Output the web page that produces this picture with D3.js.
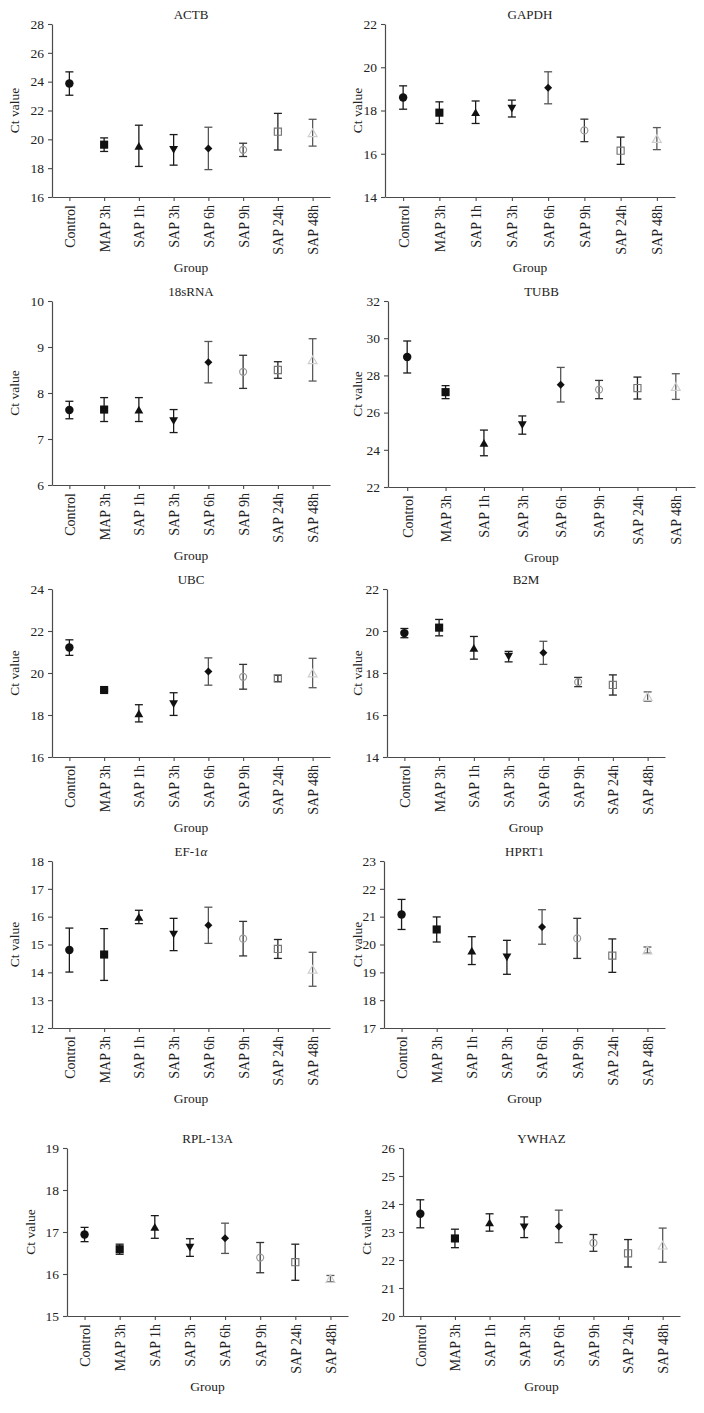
<!DOCTYPE html>
<html><head><meta charset="utf-8">
<script src="https://cdn.jsdelivr.net/npm/d3@7"></script>
<style>body{margin:0;background:#fff}svg{display:block}</style>
</head><body>
<svg id="c" width="704" height="1413"></svg>
<script>
// ---------- data ----------
const groups = ["Control","MAP 3h","SAP 1h","SAP 3h","SAP 6h","SAP 9h","SAP 24h","SAP 48h"];
const genes = ["ACTB","GAPDH","18sRNA","TUBB","UBC","B2M","EF-1α","HPRT1","RPL-13A","YWHAZ"];

const actbMean  = [23.87, 19.63, 19.55, 19.27, 19.37, 19.27, 20.53, 20.46];
const actbSD    = [0.81, 0.47, 1.43, 1.06, 1.47, 0.46, 1.27, 0.93];
const gapdhMean = [18.60, 17.90, 17.92, 18.09, 19.05, 17.08, 16.14, 16.70];
const gapdhSD   = [0.54, 0.50, 0.52, 0.39, 0.74, 0.52, 0.63, 0.51];
const rnaMean   = [7.63, 7.64, 7.64, 7.39, 8.67, 8.46, 8.50, 8.72];
const rnaSD     = [0.19, 0.26, 0.26, 0.25, 0.45, 0.36, 0.18, 0.46];
const tubbMean  = [28.99, 27.10, 24.37, 25.33, 27.50, 27.24, 27.32, 27.40];
const tubbSD    = [0.86, 0.35, 0.69, 0.49, 0.93, 0.49, 0.59, 0.69];
const ubcMean   = [21.21, 19.19, 18.08, 18.52, 20.07, 19.82, 19.74, 20.00];
const ubcSD     = [0.37, 0.05, 0.41, 0.54, 0.65, 0.59, 0.15, 0.70];
const b2mMean   = [19.90, 20.16, 19.20, 18.78, 18.96, 17.57, 17.43, 16.88];
const b2mSD     = [0.22, 0.39, 0.54, 0.25, 0.55, 0.22, 0.48, 0.22];
const efMean    = [14.80, 14.64, 15.99, 15.36, 15.69, 15.21, 14.84, 14.11];
const efSD      = [0.79, 0.93, 0.24, 0.58, 0.65, 0.62, 0.34, 0.61];
const hprtMean  = [21.08, 20.54, 19.78, 19.54, 20.63, 20.22, 19.60, 19.80];
const hprtSD    = [0.54, 0.45, 0.50, 0.61, 0.62, 0.72, 0.60, 0.11];
const rplMean   = [16.94, 16.59, 17.12, 16.63, 16.85, 16.39, 16.28, 15.89];
const rplSD     = [0.17, 0.12, 0.27, 0.21, 0.36, 0.36, 0.43, 0.075];
const ywhazMean = [23.65, 22.77, 23.34, 23.17, 23.20, 22.61, 22.24, 22.53];
const ywhazSD   = [0.50, 0.33, 0.31, 0.37, 0.58, 0.30, 0.49, 0.61];

const yDomains = [[16,28],[14,22],[6,10],[22,32],[16,24],[14,22],[12,18],[17,23],[15,19],[20,26]];
const yTicks = [
  [16,18,20,22,24,26,28],
  [14,16,18,20,22],
  [6,7,8,9,10],
  [22,24,26,28,30,32],
  [16,18,20,22,24],
  [14,16,18,20,22],
  [12,13,14,15,16,17,18],
  [17,18,19,20,21,22,23],
  [15,16,17,18,19],
  [20,21,22,23,24,25,26]
];
const yLabel = "Ct value";
const xLabel = "Group";

const means = [actbMean,gapdhMean,rnaMean,tubbMean,ubcMean,b2mMean,efMean,hprtMean,rplMean,ywhazMean];
const sds   = [actbSD,gapdhSD,rnaSD,tubbSD,ubcSD,b2mSD,efSD,hprtSD,rplSD,ywhazSD];

// ---------- layout (pixel frame of each panel) ----------
const layout = [
  {x0:52,  x1:330, yt:24,   yb:197,  ly:14},
  {x0:385, x1:675, yt:24,   yb:197,  ly:357},
  {x0:52,  x1:330, yt:301,  yb:485,  ly:14},
  {x0:388, x1:695, yt:301,  yb:487,  ly:357},
  {x0:52,  x1:330, yt:589,  yb:757,  ly:14},
  {x0:387, x1:665, yt:589,  yb:757,  ly:357},
  {x0:52,  x1:330, yt:861,  yb:1028, ly:14},
  {x0:384, x1:665, yt:861,  yb:1028, ly:357},
  {x0:67,  x1:348, yt:1148, yb:1316, ly:30},
  {x0:403, x1:680, yt:1148, yb:1316, ly:366}
];

// ---------- symbols ----------
const triUp = {draw(ctx, size){const s=Math.sqrt(size*4/Math.sqrt(3)), h=s*Math.sqrt(3)/2;
  ctx.moveTo(0,-h/2); ctx.lineTo(s/2,h/2); ctx.lineTo(-s/2,h/2); ctx.closePath();}};
const triDown = {draw(ctx, size){const s=Math.sqrt(size*4/Math.sqrt(3)), h=s*Math.sqrt(3)/2;
  ctx.moveTo(0,h/2); ctx.lineTo(s/2,-h/2); ctx.lineTo(-s/2,-h/2); ctx.closePath();}};
const diamond = {draw(ctx, size){const r=Math.sqrt(size/2);
  ctx.moveTo(0,-r); ctx.lineTo(r,0); ctx.lineTo(0,r); ctx.lineTo(-r,0); ctx.closePath();}};

const markerStyle = [
  {type:d3.symbolCircle, size:56, fill:"#111", stroke:"none"},
  {type:d3.symbolSquare, size:66, fill:"#111", stroke:"none"},
  {type:triUp,           size:34, fill:"#111", stroke:"none"},
  {type:triDown,         size:34, fill:"#111", stroke:"none"},
  {type:diamond,         size:32, fill:"#111", stroke:"none"},
  {type:d3.symbolCircle, size:38, fill:"none", stroke:"#999"},
  {type:d3.symbolSquare, size:50, fill:"none", stroke:"#777"},
  {type:triUp,           size:34, fill:"none", stroke:"#cfcfcf"}
];
const barColor = ["#1a1a1a","#1a1a1a","#1a1a1a","#1a1a1a","#555","#333","#222","#5a5a5a"];

const FONT = "'Liberation Serif','DejaVu Serif',serif";
const svg = d3.select("#c");

genes.forEach((gene, gi) => {
  const L = layout[gi];
  const g = svg.append("g");
  const x = d3.scalePoint().domain(groups).range([L.x0, L.x1]).padding(0.5);
  const y = d3.scaleLinear().domain(yDomains[gi]).range([L.yb, L.yt]);

  // y axis
  const ya = g.append("g").attr("transform", `translate(${L.x0},0)`)
    .call(d3.axisLeft(y).tickValues(yTicks[gi]).tickSize(4).tickSizeOuter(0).tickPadding(4).tickFormat(d3.format("d")));
  // x axis
  const xa = g.append("g").attr("transform", `translate(0,${L.yb})`)
    .call(d3.axisBottom(x).tickSize(4).tickSizeOuter(0));
  xa.selectAll("text")
    .attr("transform","rotate(-90)")
    .attr("x",-8).attr("y",0).attr("dy","0.35em")
    .style("text-anchor","end");
  [ya, xa].forEach(a => {
    a.select(".domain").attr("stroke","#4a4a4a").attr("stroke-width",1.2);
    a.selectAll(".tick line").attr("stroke","#4a4a4a").attr("stroke-width",1.1);
    a.selectAll("text").attr("fill","#222").style("font-family",FONT).style("font-size","13.5px");
  });
  xa.selectAll("text").style("font-size","14px");

  // title
  const cx = (L.x0 + L.x1) / 2;
  const t = g.append("text").attr("x", cx).attr("y", L.yt - 10).attr("dy","0.35em")
    .attr("text-anchor","middle").attr("fill","#222")
    .style("font-family",FONT).style("font-size","13px");
  if (gene.endsWith("α")) {
    t.append("tspan").text(gene.slice(0,-1));
    t.append("tspan").style("font-style","italic").text("α");
  } else t.text(gene);

  // axis labels
  g.append("text").attr("x", cx).attr("y", L.yb + 70).attr("dy","0.35em")
    .attr("text-anchor","middle").attr("fill","#222")
    .style("font-family",FONT).style("font-size","13.5px").text(xLabel);
  g.append("text").attr("transform", `translate(${L.ly},${(L.yt+L.yb)/2}) rotate(-90)`)
    .attr("dy","0.35em").attr("text-anchor","middle").attr("fill","#222")
    .style("font-family",FONT).style("font-size","13.5px").text(yLabel);

  // error bars
  const rows = groups.map((grp, i) => ({grp, i, m: means[gi][i], s: sds[gi][i]}));
  const eb = g.append("g").selectAll("g").data(rows).join("g")
    .attr("stroke", d => barColor[d.i]).attr("stroke-width",1.3).attr("fill","none");
  eb.append("line").attr("x1", d => x(d.grp)).attr("x2", d => x(d.grp))
    .attr("y1", d => y(d.m + d.s)).attr("y2", d => y(d.m - d.s));
  eb.append("line").attr("x1", d => x(d.grp) - 4).attr("x2", d => x(d.grp) + 4)
    .attr("y1", d => y(d.m + d.s)).attr("y2", d => y(d.m + d.s));
  eb.append("line").attr("x1", d => x(d.grp) - 4).attr("x2", d => x(d.grp) + 4)
    .attr("y1", d => y(d.m - d.s)).attr("y2", d => y(d.m - d.s));

  // markers
  g.append("g").selectAll("path").data(rows).join("path")
    .attr("transform", d => `translate(${x(d.grp)},${y(d.m)})`)
    .attr("d", d => d3.symbol().type(markerStyle[d.i].type).size(markerStyle[d.i].size)())
    .attr("fill", d => markerStyle[d.i].fill)
    .attr("stroke", d => markerStyle[d.i].stroke)
    .attr("stroke-width", 1.2);
});
</script>
</body></html>
